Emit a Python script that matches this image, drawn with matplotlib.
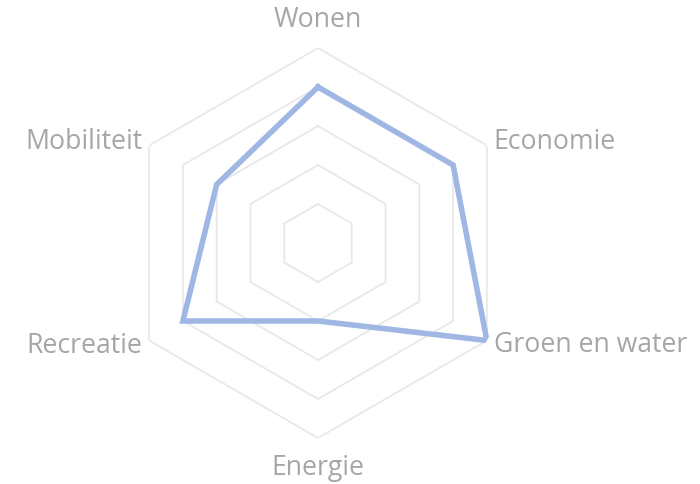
import numpy as np
import matplotlib
matplotlib.use("Agg")
import matplotlib.pyplot as plt

categories = ["Wonen", "Economie", "Groen en water", "Energie", "Recreatie", "Mobiliteit"]
values = [4, 4, 5, 2, 4, 3]
ring_levels = [1, 2, 3, 4, 5]
r_max = 5

plt.rcParams['font.family'] = ['Open Sans', 'DejaVu Sans']

fig = plt.figure(figsize=(7, 4.85), dpi=100)
W, H = 700, 485
cx, cy, R = 318, 244, 195
ax = fig.add_axes([(cx - R) / W, (H - cy - R) / H, 2 * R / W, 2 * R / H], projection='polar')
ax.set_theta_zero_location('N')
ax.set_theta_direction(-1)
ax.set_ylim(0, r_max)
ax.set_axis_off()

n = len(categories)
angles = np.arange(n) * 2 * np.pi / n
closed = np.append(angles, angles[0])

for lv in ring_levels:
    ax.plot(closed, [lv] * (n + 1), color='#e8e8e8', lw=1.3, zorder=1, solid_joinstyle='miter')

vals = values + values[:1]
ax.plot(closed, vals, color='#a0b7e4', lw=4.0, zorder=3, solid_joinstyle='miter')

text_color = '#a6a6a6'
offsets = [(0, 29, 'center', 'center'),
           (7, 4, 'left', 'center'),
           (7, -4, 'left', 'center'),
           (0, -29, 'center', 'center'),
           (-7, -4, 'right', 'center'),
           (-7, 4, 'right', 'center')]
for ang, lab, (dx, dy, ha, va) in zip(angles, categories, offsets):
    ax.annotate(lab, xy=(ang, r_max), xytext=(dx, dy), textcoords='offset pixels',
                ha=ha, va=va, fontsize=19.2, color=text_color, annotation_clip=False)

fig.savefig('out.png', dpi=100)
